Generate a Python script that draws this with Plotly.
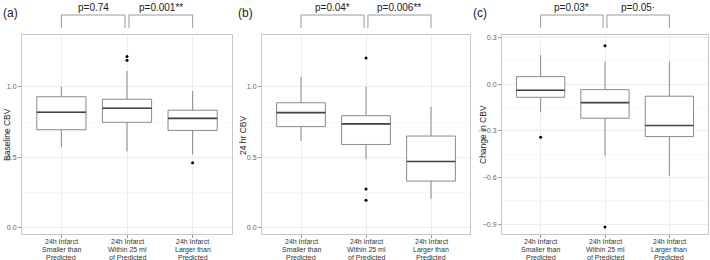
import plotly.graph_objects as go

categories = [["24h Infarct", "Smaller than", "Predicted"],
              ["24h Infarct", "Within 25 ml", "of Predicted"],
              ["24h Infarct", "Larger than", "Predicted"]]

# Panel (a) Baseline CBV
base_lower = [0.57, 0.54, 0.52]
base_q1 = [0.695, 0.748, 0.69]
base_median = [0.82, 0.848, 0.776]
base_q3 = [0.93, 0.912, 0.834]
base_upper = [1.00, 1.114, 0.971]
base_out_x = [1, 1, 2]
base_out_y = [1.216, 1.19, 0.46]

# Panel (b) 24 hr CBV
hr24_lower = [0.616, 0.486, 0.203]
hr24_q1 = [0.717, 0.59, 0.329]
hr24_median = [0.817, 0.737, 0.469]
hr24_q3 = [0.887, 0.795, 0.65]
hr24_upper = [1.072, 1.0, 0.858]
hr24_out_x = [1, 1, 1]
hr24_out_y = [1.206, 0.273, 0.193]

# Panel (c) Change in CBV
chg_lower = [-0.18, -0.459, -0.589]
chg_q1 = [-0.084, -0.219, -0.337]
chg_median = [-0.039, -0.118, -0.266]
chg_q3 = [0.049, -0.035, -0.077]
chg_upper = [0.188, 0.145, 0.145]
chg_out_x = [0, 1, 1]
chg_out_y = [-0.341, 0.248, -0.919]

p_a = ["p=0.74", "p=0.001**"]
p_b = ["p=0.04*", "p=0.006**"]
p_c = ["p=0.03*", "p=0.05·"]

panel_labels = ["(a)", "(b)", "(c)"]
y_titles = ["Baseline CBV", "24 hr CBV", "Change in CBV"]

yticks_ab = [0.0, 0.5, 1.0]
yticks_c = [0.3, 0.0, -0.3, -0.6, -0.9]

W, H = 710, 260
x_dom_px = [(22, 232), (262, 470), (502, 708)]
y_dom = [(H - 234) / H, (H - 35) / H]
yranges = [[-0.048, 1.37], [-0.048, 1.37], [-0.964, 0.317]]
ytick_sets = [yticks_ab, yticks_ab, yticks_c]
ytitle_x_px = [7, 243, 483]
label_x_px = [1, 236, 471]
cat_line_y_px = [241, 249.5, 257.8]

BOXW = 0.75
FONT = "Liberation Sans, Arial, sans-serif"

panels = [
    (base_lower, base_q1, base_median, base_q3, base_upper, base_out_x, base_out_y, p_a),
    (hr24_lower, hr24_q1, hr24_median, hr24_q3, hr24_upper, hr24_out_x, hr24_out_y, p_b),
    (chg_lower, chg_q1, chg_median, chg_q3, chg_upper, chg_out_x, chg_out_y, p_c),
]

fig = go.Figure()
idx = list(range(len(categories)))
shapes = []
annotations = []

for k, (lo, q1, med, q3, up, ox, oy, pl) in enumerate(panels):
    sfx = "" if k == 0 else str(k + 1)
    xa, ya = "x" + sfx, "y" + sfx
    fig.add_trace(go.Box(
        x=idx, q1=q1, median=med, q3=q3, lowerfence=lo, upperfence=up,
        width=BOXW, whiskerwidth=0, fillcolor="white",
        line=dict(color="#8a8a8a", width=1), boxpoints=False,
        xaxis=xa, yaxis=ya, showlegend=False, hoverinfo="skip"))
    mx, my = [], []
    for i, m in zip(idx, med):
        mx += [i - BOXW / 2, i + BOXW / 2, None]
        my += [m, m, None]
    fig.add_trace(go.Scatter(x=mx, y=my, mode="lines",
                             line=dict(color="#444444", width=1.6),
                             xaxis=xa, yaxis=ya, showlegend=False, hoverinfo="skip"))
    fig.add_trace(go.Scatter(x=ox, y=oy, mode="markers",
                             marker=dict(color="black", size=3),
                             xaxis=xa, yaxis=ya, showlegend=False, hoverinfo="skip"))

    x0p, x1p = x_dom_px[k]
    fig.layout["xaxis" + sfx] = dict(
        domain=[x0p / W, x1p / W], anchor=ya, range=[-0.6, 2.6],
        tickvals=idx, showticklabels=False, automargin=False,
        ticks="outside", ticklen=3, tickcolor="#9a9a9a",
        showgrid=True, gridcolor="#ececec", gridwidth=1,
        showline=True, mirror=True, linecolor="#c8c8c8", linewidth=1,
        zeroline=False, fixedrange=True)
    fig.layout["yaxis" + sfx] = dict(
        domain=y_dom, anchor=xa, range=yranges[k], automargin=False,
        tickvals=ytick_sets[k], tickformat=".1f",
        tickfont=dict(size=7, color="#666666", family=FONT),
        ticks="outside", ticklen=3, tickcolor="#9a9a9a",
        showgrid=True, gridcolor="#ececec", gridwidth=1,
        minor=dict(showgrid=True, gridcolor="#f8f8f8",
                   tickvals=[(a + b) / 2 for a, b in zip(ytick_sets[k][:-1], ytick_sets[k][1:])]),
        showline=True, mirror=True, linecolor="#c8c8c8", linewidth=1,
        zeroline=False, fixedrange=True)

    # category labels (one annotation per line)
    for i, lines in zip(idx, categories):
        for ln, ypx in zip(lines, cat_line_y_px):
            annotations.append(dict(x=i, y=(H - ypx) / H, xref=xa, yref="paper",
                                    text=ln, showarrow=False,
                                    font=dict(size=7, color="#333333", family=FONT),
                                    xanchor="center", yanchor="middle"))

    # brackets and p-values
    pairs = [(0, 0.97), (1.03, 2)]
    yb = 1 - 28 / H
    yt = 1 - 15 / H
    for (a, b), txt in zip(pairs, pl):
        shapes.append(dict(type="path", xref=xa, yref="paper",
                           path=f"M {a},{yb} L {a},{yt} L {b},{yt} L {b},{yb}",
                           line=dict(color="#9a9a9a", width=1)))
        annotations.append(dict(x=(a + b) / 2, y=1 - 7 / H, xref=xa, yref="paper",
                                text=txt, showarrow=False,
                                font=dict(size=10, color="#222222", family=FONT),
                                xanchor="center", yanchor="middle"))
    annotations.append(dict(x=ytitle_x_px[k] / W, y=(H - 135) / H, xref="paper", yref="paper",
                            text=y_titles[k], textangle=-90, showarrow=False,
                            font=dict(size=8.5, color="#222222", family=FONT),
                            xanchor="center", yanchor="middle"))
    annotations.append(dict(x=label_x_px[k] / W, y=1 - 13 / H, xref="paper", yref="paper",
                            text=panel_labels[k], showarrow=False,
                            font=dict(size=12, color="#222222", family=FONT),
                            xanchor="left", yanchor="middle"))

fig.update_layout(width=W, height=H, margin=dict(l=0, r=0, t=0, b=0, autoexpand=False),
                  paper_bgcolor="white", plot_bgcolor="white",
                  shapes=shapes, annotations=annotations,
                  font=dict(family=FONT))

fig.write_html("out.html", config={"displayModeBar": False},
               post_script="document.body.style.margin='0';")
